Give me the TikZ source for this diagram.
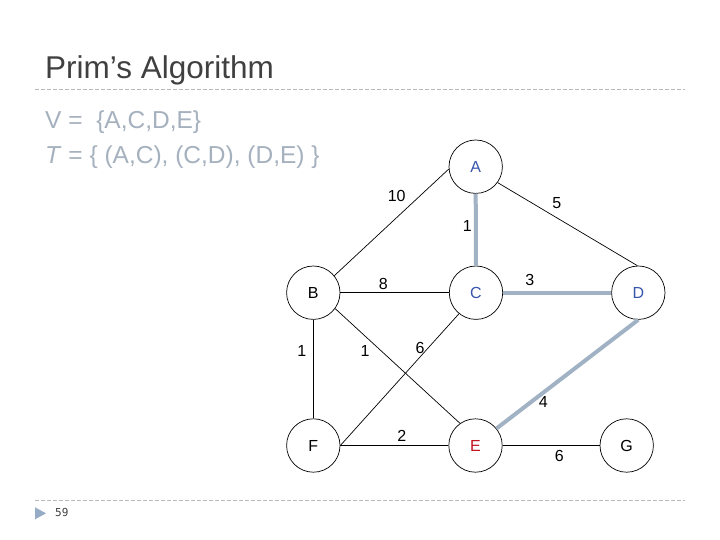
\documentclass[tikz,border=0pt]{standalone}
\usepackage{fontspec}
\setmainfont{Liberation Sans}
\newfontfamily\pagenumfont{DejaVu Sans Mono}
\definecolor{titlegray}{RGB}{64,64,64}
\definecolor{bodygray}{RGB}{165,177,190}
\definecolor{rulegray}{RGB}{185,185,185}
\definecolor{nodeblue}{RGB}{55,85,170}
\definecolor{nodered}{RGB}{192,20,30}
\definecolor{treeedge}{RGB}{160,178,196}
\definecolor{bulletblue}{RGB}{150,172,198}
\begin{document}
\begin{tikzpicture}[x=1pt,y=-1pt,
  vertex/.style={circle,draw=black,line width=0.7pt,minimum size=53.4pt,inner sep=0pt,
    font=\fontsize{16}{16}\selectfont},
  wlabel/.style={inner sep=0pt,font=\fontsize{16}{16}\selectfont},
  thinedge/.style={draw=black,line width=0.7pt},
  treeline/.style={draw=treeedge,line width=4pt},
  rulerline/.style={draw=rulegray,line width=0.8pt,dash pattern=on 4pt off 2pt},
  bodytext/.style={anchor=base west,inner sep=0pt,text=bodygray,font=\fontsize{24.5}{24.5}\selectfont}]
\useasboundingbox (0,0) rectangle (720,540);
\fill[white] (0,0) rectangle (720,540);

% title and rules
\node[anchor=base west,inner sep=0pt,text=titlegray,font=\fontsize{31.5}{31.5}\selectfont] (title) at (45,78.3) {Prim’s Algorithm};
\coordinate (r1a) at (35,89.5);
\coordinate (r1b) at (685,89.5);
\draw[rulerline] (r1a) -- (r1b);
\coordinate (r2a) at (35,500);
\coordinate (r2b) at (685,500);
\draw[rulerline] (r2a) -- (r2b);

\node[bodytext] (vset) at (45,128.3) {V =\ \ \{A,C,D,E\}};
\node[bodytext] (tset) at (45,163.3) {\textit{T} = \{ (A,C), (C,D), (D,E) \}};

% page number
\coordinate (t1) at (35,507.3);
\coordinate (t2) at (35,519.3);
\coordinate (t3) at (46,513.3);
\fill[bulletblue] (t1) -- (t2) -- (t3) -- cycle;
\node[anchor=base west,inner sep=0pt,text=titlegray,font=\pagenumfont\fontsize{11}{11}\selectfont] (pnum) at (55,516.8) {59};

% vertices
\node[vertex,text=nodeblue] (A) at (475.7,166.7) {A};
\node[vertex] (B) at (313.3,292.7) {B};
\node[vertex,text=nodeblue] (C) at (476,292.7) {C};
\node[vertex,text=nodeblue] (D) at (638.3,292.7) {D};
\node[vertex] (F) at (313.3,445.5) {F};
\node[vertex,text=nodered] (E) at (475.5,445.5) {E};
\node[vertex] (G) at (626.7,445.5) {G};

% edges
\draw[thinedge] (A.185) -- (B.39);
\draw[thinedge] (A.-36) -- (D.92);
\draw[thinedge] (B.east) -- (C.west);
\draw[thinedge] (B.south) -- (F.north);
\draw[thinedge] (B.-36) -- (E.125);
\draw[thinedge] (F.east) -- (C.231);
\draw[thinedge] (F.east) -- (E.west);
\draw[thinedge] (E.east) -- (G.west);
\draw[treeline] (A.south) -- (C.north);
\draw[treeline] (C.east) -- (D.west);
\draw[treeline] (D.south) -- (E.39);

% weights
\node[wlabel] (wAB) at (396.7,196.2) {10};
\node[wlabel] (wAD) at (556.7,202.7) {5};
\node[wlabel] (wAC) at (467.2,225.8) {1};
\node[wlabel] (wBC) at (383.2,284.2) {8};
\node[wlabel] (wCD) at (529.8,279.8) {3};
\node[wlabel] (wBF) at (301.7,351.3) {1};
\node[wlabel] (wBE) at (365,351.3) {1};
\node[wlabel] (wCF) at (420,348.3) {6};
\node[wlabel] (wDE) at (543.3,402.2) {4};
\node[wlabel] (wFE) at (401.8,435.5) {2};
\node[wlabel] (wEG) at (559.2,455.5) {6};
\end{tikzpicture}
\end{document}
